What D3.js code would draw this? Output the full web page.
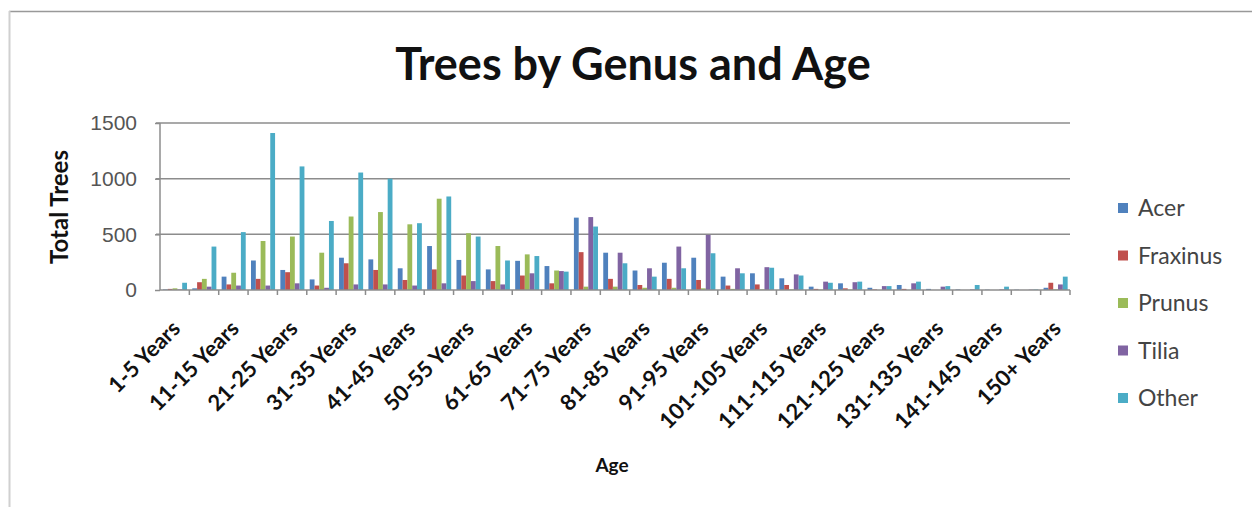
<!DOCTYPE html>
<html lang="en">
<head>
	<meta charset="utf-8">
	<title>Trees by Genus and Age</title>
	<script src="https://cdn.jsdelivr.net/npm/d3@7"></script>
	<style>
		body {
			margin: 0;
			background: #fff;
			font-family: "Lato", "Open Sans", sans-serif;
		}
		.grid line {
			stroke: #8c8c8c;
			stroke-width: 1.5px;
		}
		.axis path,
		.axis line {
			fill: none;
			stroke: #8c8c8c;
			stroke-width: 1.5px;
		}
		.ylab text {
			font-size: 21px;
			fill: #555;
		}
		.xlab text {
			font-size: 22px;
			font-weight: bold;
			fill: #111;
		}
		.legend text {
			font-size: 23px;
			fill: #444;
		}
	</style>
</head>
<body>
<script>

	// age classes (every other one gets a label)
	var ages = ["1-5 Years", "6-10 Years", "11-15 Years", "16-20 Years", "21-25 Years",
		"26-30 Years", "31-35 Years", "36-40 Years", "41-45 Years", "46-50 Years",
		"50-55 Years", "56-60 Years", "61-65 Years", "66-70 Years", "71-75 Years",
		"76-80 Years", "81-85 Years", "86-90 Years", "91-95 Years", "96-100 Years",
		"101-105 Years", "106-110 Years", "111-115 Years", "116-120 Years", "121-125 Years",
		"126-130 Years", "131-135 Years", "136-140 Years", "141-145 Years", "146-150 Years",
		"150+ Years"];

	var genera = ["Acer", "Fraxinus", "Prunus", "Tilia", "Other"];

	var acer     = [5, 15, 120, 265, 180, 95, 290, 275, 195, 395, 270, 185, 262, 215, 650, 335, 175, 245, 290, 120, 150, 105, 30, 60, 20, 45, 10, 5, 3, 3, 20];
	var fraxinus = [10, 70, 50, 100, 160, 40, 240, 180, 90, 185, 130, 80, 130, 60, 340, 100, 45, 100, 90, 40, 50, 45, 10, 15, 5, 10, 0, 0, 0, 0, 65];
	var prunus   = [15, 100, 155, 440, 480, 335, 660, 700, 590, 820, 510, 395, 320, 175, 30, 30, 20, 20, 15, 10, 5, 5, 3, 3, 0, 0, 0, 0, 0, 0, 5];
	var tilia    = [5, 30, 40, 40, 60, 20, 50, 50, 40, 60, 80, 50, 150, 170, 655, 335, 195, 390, 495, 195, 205, 140, 75, 70, 35, 60, 30, 5, 5, 3, 50];
	var other    = [65, 390, 520, 1410, 1110, 620, 1055, 1000, 600, 840, 480, 265, 305, 165, 570, 240, 120, 195, 330, 150, 200, 130, 65, 75, 35, 75, 35, 45, 30, 5, 120];

	var yTicks = [0, 500, 1000, 1500];
	var colors = ["#4f81bd", "#c0504d", "#9bbb59", "#8064a2", "#4bacc6"];

	var series = [acer, fraxinus, prunus, tilia, other];

	var W = 1252, H = 507;
	var margin = {top: 123, right: 182, bottom: 217, left: 160};
	var width = W - margin.left - margin.right,
		height = H - margin.top - margin.bottom;

	var svg = d3.select("body")
		.append("svg")
		.attr("width", W)
		.attr("height", H);

	// chart frame
	svg.append("line").attr("x1", 9).attr("x2", W).attr("y1", 11.5).attr("y2", 11.5)
		.attr("stroke", "#999").attr("stroke-width", 1.5);
	svg.append("line").attr("x1", 9.5).attr("x2", 9.5).attr("y1", 11).attr("y2", H)
		.attr("stroke", "#d0d0d0").attr("stroke-width", 2);

	svg.append("text")
		.attr("x", 633)
		.attr("y", 80)
		.attr("text-anchor", "middle")
		.attr("font-size", "45px")
		.attr("font-weight", "bold")
		.attr("fill", "#111")
		.text("Trees by Genus and Age");

	var g = svg.append("g")
		.attr("transform", "translate(" + margin.left + "," + margin.top + ")");

	var x0 = d3.scaleBand().domain(ages).range([0, width]).padding(0);
	var x1 = d3.scaleBand().domain(genera)
		.range([x0.bandwidth() * 0.1, x0.bandwidth() * 0.92]);
	var y = d3.scaleLinear().domain([0, 1500]).range([height, 0]);

	// gridlines
	g.append("g")
		.attr("class", "grid")
		.selectAll("line")
		.data(yTicks.slice(1))
		.enter()
		.append("line")
		.attr("x1", -4)
		.attr("x2", width)
		.attr("y1", function(d) { return y(d); })
		.attr("y2", function(d) { return y(d); });

	// bars
	var groups = g.selectAll(".age")
		.data(ages)
		.enter()
		.append("g")
		.attr("class", "age")
		.attr("transform", function(d) { return "translate(" + x0(d) + ",0)"; });

	groups.selectAll("rect")
		.data(function(d, i) {
			return genera.map(function(k, j) { return {key: k, value: series[j][i], c: colors[j]}; });
		})
		.enter()
		.append("rect")
		.attr("x", function(d) { return x1(d.key); })
		.attr("width", x1.bandwidth())
		.attr("y", function(d) { return y(d.value); })
		.attr("height", function(d) { return height - y(d.value); })
		.attr("fill", function(d) { return d.c; });

	// y axis
	var yAxis = g.append("g")
		.attr("class", "axis ylab")
		.call(d3.axisLeft(y).tickValues(yTicks).tickFormat(d3.format("d")).tickSize(5).tickPadding(18));
	yAxis.select(".domain").attr("d", "M0,0V" + height);

	// x axis with ticks between categories
	var xAxisG = g.append("g")
		.attr("class", "axis")
		.attr("transform", "translate(0," + height + ")");
	xAxisG.append("line").attr("x1", 0).attr("x2", width).attr("y1", 0).attr("y2", 0);
	xAxisG.selectAll(".tk")
		.data(ages)
		.enter()
		.append("line")
		.attr("class", "tk")
		.attr("x1", function(d) { return x0(d) + x0.bandwidth(); })
		.attr("x2", function(d) { return x0(d) + x0.bandwidth(); })
		.attr("y1", 0)
		.attr("y2", 5);

	g.append("g")
		.attr("class", "xlab")
		.selectAll("text")
		.data(ages.filter(function(d, i) { return i % 2 === 0; }))
		.enter()
		.append("text")
		.attr("text-anchor", "end")
		.attr("transform", function(d) {
			return "translate(" + (x0(d) + x0.bandwidth() / 2 + 7) + "," + (height + 40) + ") rotate(-45)";
		})
		.text(function(d) { return d; });

	// axis titles
	svg.append("text")
		.attr("transform", "translate(68," + 207 + ") rotate(-90)")
		.attr("text-anchor", "middle")
		.attr("font-size", "24px")
		.attr("font-weight", "bold")
		.attr("fill", "#111")
		.text("Total Trees");

	svg.append("text")
		.attr("x", 612)
		.attr("y", 472)
		.attr("text-anchor", "middle")
		.attr("font-size", "19px")
		.attr("font-weight", "bold")
		.attr("fill", "#111")
		.text("Age");

	// legend
	var legend = svg.append("g")
		.attr("class", "legend")
		.attr("transform", "translate(1118,208)");

	var li = legend.selectAll("g")
		.data(genera)
		.enter()
		.append("g")
		.attr("transform", function(d, i) { return "translate(0," + (i * 47.5) + ")"; });
	li.append("rect")
		.attr("x", 0).attr("y", -5)
		.attr("width", 10).attr("height", 10)
		.attr("fill", function(d, i) { return colors[i]; });
	li.append("text")
		.attr("x", 20)
		.attr("y", 8)
		.text(function(d) { return d; });

</script>
</body>
</html>
